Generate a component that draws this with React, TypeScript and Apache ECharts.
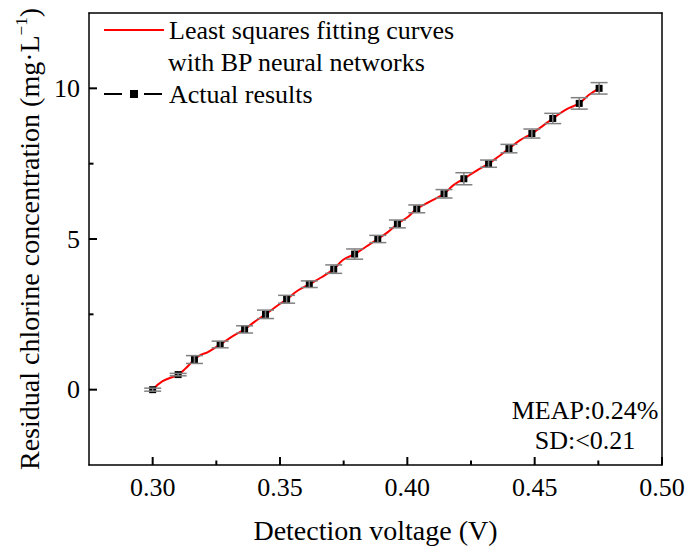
import React, { useEffect, useRef } from 'react';
import * as echarts from 'echarts';

// Measured data (Detection voltage V, Residual chlorine mg/L, error bar half-height)
const xVals = [0.300, 0.310, 0.3164, 0.3265, 0.3361, 0.3443, 0.3526, 0.3615, 0.3711, 0.3793, 0.3884, 0.3961, 0.4037, 0.4144, 0.4222, 0.4319, 0.4399, 0.4489, 0.4571, 0.4675, 0.4753];
const yVals = [0, 0.5, 1.0, 1.5, 2.0, 2.5, 3.0, 3.5, 4.0, 4.5, 5.0, 5.5, 6.0, 6.5, 7.0, 7.5, 8.0, 8.5, 9.0, 9.5, 10.0];
const errVals = [0.05, 0.04, 0.13, 0.11, 0.12, 0.14, 0.13, 0.11, 0.14, 0.17, 0.12, 0.13, 0.13, 0.14, 0.20, 0.12, 0.14, 0.15, 0.17, 0.19, 0.19];

// Fitted curve (BP neural network least squares)
const fitX = [0.300, 0.3039, 0.310, 0.3131, 0.3164, 0.319, 0.3215, 0.3265, 0.3313, 0.3361, 0.3401, 0.3443, 0.3485, 0.3526, 0.357, 0.3615, 0.3663, 0.3711, 0.3748, 0.3793, 0.3839, 0.3884, 0.3922, 0.3961, 0.4003, 0.4037, 0.4088, 0.4144, 0.418, 0.4222, 0.4272, 0.4319, 0.4357, 0.4399, 0.4443, 0.4489, 0.4528, 0.4571, 0.4626, 0.4675, 0.4711, 0.4753];
const fitY = [0, 0.28, 0.5, 0.72, 1.0, 1.16, 1.24, 1.5, 1.77, 2.0, 2.26, 2.5, 2.76, 3.0, 3.29, 3.5, 3.73, 4.0, 4.31, 4.5, 4.75, 5.0, 5.22, 5.5, 5.74, 6.0, 6.24, 6.5, 6.78, 7.0, 7.27, 7.5, 7.73, 8.0, 8.28, 8.5, 8.73, 9.0, 9.31, 9.5, 9.77, 10.0];

// Axis ranges and tick positions
const xRange = [0.275, 0.5];
const yRange = [-2.5, 12.5];
const xMajor = [0.30, 0.35, 0.40, 0.45, 0.50];
const xMinor = [0.325, 0.375, 0.425, 0.475];
const yMajor = [0, 5, 10];
const yMinor = [2.5, 7.5];

const FONT = '"Liberation Serif", "Times New Roman", serif';

export default function App() {
  const ref = useRef<HTMLDivElement>(null);

  useEffect(() => {
    const chart = echarts.init(ref.current!, null, { renderer: 'svg' });
    const ls = () => ({ color: '#000', width: 1.5 });
    const MAJ = 8;
    const MIN = 4.5;
    // [value, axis (0 = x, 1 = y), tick length]
    const tickData = [
      ...xMajor.map((v) => [v, 0, MAJ]),
      ...xMinor.map((v) => [v, 0, MIN]),
      ...yMajor.map((v) => [v, 1, MAJ]),
      ...yMinor.map((v) => [v, 1, MIN]),
    ];
    const textGraphics: any[] = [
      {
        type: 'text', left: 168, top: 49,
        style: { text: 'with BP neural networks', font: `26px ${FONT}`, fill: '#000' },
      },
      {
        type: 'text', x: 585, y: 410,
        style: { text: 'MEAP:0.24%', font: `26px ${FONT}`, fill: '#000', align: 'center', verticalAlign: 'middle' },
      },
      {
        type: 'text', x: 585, y: 440,
        style: { text: 'SD:<0.21', font: `26px ${FONT}`, fill: '#000', align: 'center', verticalAlign: 'middle' },
      },
    ];
    const option: any = {
      animation: false,
      backgroundColor: '#fff',
      grid: {
        left: 89, right: 26, top: 13, bottom: 87,
        containLabel: false, outerBoundsMode: 'none',
      },
      legend: {
        orient: 'vertical', left: 103, top: 17, padding: 0,
        itemGap: 38, itemWidth: 60, itemHeight: 10,
        selectedMode: false,
        textStyle: { fontFamily: FONT, fontSize: 26, color: '#000' },
        data: [
          { name: 'Least squares fitting curves', icon: 'path://M0,0H60V2H0Z', itemStyle: { color: '#ff0000' } },
          { name: 'Actual results', lineStyle: { color: '#000', width: 2, type: [18, 22], opacity: 1 } },
        ],
      },
      xAxis: [
        {
          type: 'value', min: xRange[0], max: xRange[1], position: 'bottom', splitNumber: 5,
          axisLine: { show: true, onZero: false, lineStyle: ls() },
          axisTick: { show: false },
          axisLabel: {
            margin: 9, fontFamily: FONT, fontSize: 26, color: '#000',
            showMinLabel: false, showMaxLabel: true,
            formatter: (v: number) => v.toFixed(2),
          },
          splitLine: { show: false },
          name: 'Detection voltage (V)', nameLocation: 'middle', nameGap: 51,
          nameTextStyle: { fontFamily: FONT, fontSize: 28, color: '#000' },
        },
        {
          type: 'value', min: xRange[0], max: xRange[1], position: 'top',
          axisLine: { show: true, onZero: false, lineStyle: ls() },
          axisTick: { show: false },
          axisLabel: { show: false },
          splitLine: { show: false },
        },
      ],
      yAxis: [
        {
          type: 'value', min: yRange[0], max: yRange[1], position: 'left', splitNumber: 3,
          axisLine: { show: true, onZero: false, lineStyle: ls() },
          axisTick: { show: false },
          axisLabel: {
            margin: 9, fontFamily: FONT, fontSize: 26, color: '#000',
            showMinLabel: false, showMaxLabel: false,
          },
          splitLine: { show: false },
          name: '{a|Residual chlorine concentration (mg·L}{b|−1}{a|)}',
          nameLocation: 'middle', nameGap: 45,
          nameTextStyle: {
            fontFamily: FONT, fontSize: 28, color: '#000',
            rich: {
              a: { fontFamily: FONT, fontSize: 28, color: '#000', lineHeight: 30, verticalAlign: 'bottom' },
              b: { fontFamily: FONT, fontSize: 17, color: '#000', verticalAlign: 'top' },
            },
          },
        },
        {
          type: 'value', min: yRange[0], max: yRange[1], position: 'right',
          axisLine: { show: true, onZero: false, lineStyle: ls() },
          axisTick: { show: false },
          axisLabel: { show: false },
          splitLine: { show: false },
        },
      ],
      series: [
        {
          name: 'Least squares fitting curves',
          type: 'line',
          data: fitX.map((x, i) => [x, fitY[i]]),
          smooth: 0.4,
          symbol: 'none',
          color: '#ff0000',
          lineStyle: { color: '#ff0000', width: 2 },
          z: 2,
        },
        {
          name: 'Actual results',
          type: 'line',
          data: xVals.map((x, i) => [x, yVals[i]]),
          symbol: 'rect',
          symbolSize: 7,
          color: '#000',
          itemStyle: { color: '#000' },
          lineStyle: { opacity: 0 },
          z: 3,
        },
        {
          name: 'errorbars',
          type: 'custom',
          data: xVals.map((x, i) => [x, yVals[i], errVals[i]]),
          encode: { x: 0, y: 1 },
          z: 4,
          silent: true,
          renderItem: (params: any, api: any) => {
            const x = api.value(0);
            const y = api.value(1);
            const e = api.value(2);
            const lo = api.coord([x, y - e]);
            const hi = api.coord([x, y + e]);
            const hw = 8.5;
            const style = { stroke: '#808080', lineWidth: 1.5 };
            return {
              type: 'group',
              children: [
                { type: 'line', shape: { x1: lo[0], y1: lo[1], x2: hi[0], y2: hi[1] }, style },
                { type: 'line', shape: { x1: lo[0] - hw, y1: lo[1], x2: lo[0] + hw, y2: lo[1] }, style },
                { type: 'line', shape: { x1: hi[0] - hw, y1: hi[1], x2: hi[0] + hw, y2: hi[1] }, style },
              ],
            };
          },
        },
      ],
      graphic: textGraphics,
    };
    chart.setOption(option);

    // Axis ticks placed through the chart's own scales
    const tickGraphics: any[] = tickData.map(([v, axis, len]) => {
      if (axis === 0) {
        const p = chart.convertToPixel({ gridIndex: 0 }, [v, yRange[0]]) as number[];
        return {
          type: 'line', z: 100, silent: true,
          shape: { x1: p[0], y1: p[1], x2: p[0], y2: p[1] - len },
          style: { stroke: '#000', lineWidth: 2 },
        };
      }
      const p = chart.convertToPixel({ gridIndex: 0 }, [xRange[0], v]) as number[];
      return {
        type: 'line', z: 100, silent: true,
        shape: { x1: p[0], y1: p[1], x2: p[0] + len, y2: p[1] },
        style: { stroke: '#000', lineWidth: 2 },
      };
    });
    option.graphic = [...textGraphics, ...tickGraphics];
    chart.setOption(option, true);

    return () => chart.dispose();
  }, []);

  return (
    <div
      ref={ref}
      style={{ position: 'fixed', left: 0, top: 0, width: 688, height: 552, background: '#fff' }}
    />
  );
}
